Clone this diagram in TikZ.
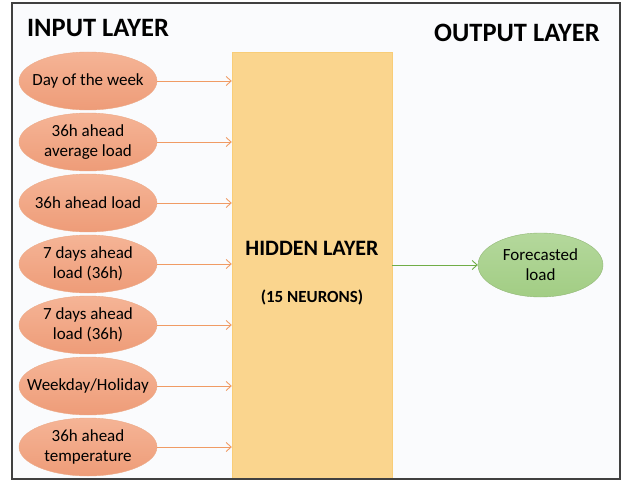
\documentclass[tikz,border=0pt]{standalone}
\usepackage{fontspec}
\setmainfont{Carlito}
\usetikzlibrary{shapes.geometric,positioning,arrows.meta}
\definecolor{intop}{RGB}{245,180,150}
\definecolor{inbottom}{RGB}{238,156,120}
\definecolor{inedge}{RGB}{236,170,135}
\definecolor{inarrow}{RGB}{240,155,100}
\definecolor{hidfill}{RGB}{250,213,142}
\definecolor{hidedge}{RGB}{248,205,120}
\definecolor{outtop}{RGB}{180,216,156}
\definecolor{outbottom}{RGB}{162,205,132}
\definecolor{outarrow}{RGB}{112,173,71}
\definecolor{pagebg}{RGB}{250,251,253}
\tikzset{
  inputnode/.style = {ellipse, top color=intop, bottom color=inbottom, draw=inedge,
    minimum width=138pt, minimum height=58pt, inner xsep=-12pt, inner ysep=0pt,
    align=center, font=\fontsize{17}{20}\selectfont},
  outputnode/.style = {ellipse, top color=outtop, bottom color=outbottom,
    draw=outbottom!90!black, minimum width=125pt, minimum height=64pt,
    inner xsep=-12pt, inner ysep=0pt, align=center,
    font=\fontsize{17}{20}\selectfont},
  layertitle/.style = {font=\fontsize{26.5}{30}\selectfont\bfseries},
  link/.style = {-{Straight Barb[length=5pt,width=9pt]}, line width=0.9pt},
}
\begin{document}
\begin{tikzpicture}[x=1pt, y=-1pt]
\useasboundingbox (0,0) rectangle (621,481);
\fill [pagebg] (12,3) rectangle (620,479);
% hidden layer block
\node [rectangle, fill=hidfill, draw=hidedge, minimum width=160pt, minimum height=427pt,
  inner sep=0pt] (hidden) at (312,265.5) {};
\node [font=\fontsize{22}{26}\selectfont\bfseries] (hidname) at (312,248) {HIDDEN LAYER};
\node [font=\fontsize{17}{20}\selectfont\bfseries] (hidsize) at (312,297) {(15 NEURONS)};
\draw [darkgray, line width=1.3pt] (12,3) rectangle (620,479);
% layer titles
\node [layertitle] (intitle) at (98,28) {INPUT LAYER};
\node [layertitle] (outtitle) at (517,33) {OUTPUT LAYER};
% inputs
\node [inputnode] (day) at (88,81) {Day of the week};
\node [inputnode] (avg) at (88,142) {36h ahead\\average load};
\node [inputnode] (load) at (88,203) {36h ahead load};
\node [inputnode] (weekA) at (88,264) {7 days ahead\\load (36h)};
\node [inputnode] (weekB) at (88,325) {7 days ahead\\load (36h)};
\node [inputnode] (hol) at (88,386) {Weekday/Holiday};
\node [inputnode] (temp) at (88,447) {36h ahead\\temperature};
\foreach \n in {day,avg,load,weekA,weekB,hol,temp}
  \draw [link, inarrow] (\n.east) -- (hidden.west |- \n);
% output
\node [outputnode] (fc) at (540.5,265) {Forecasted\\load};
\draw [link, outarrow] (hidden.east |- fc) -- (fc.west);
\end{tikzpicture}
\end{document}
